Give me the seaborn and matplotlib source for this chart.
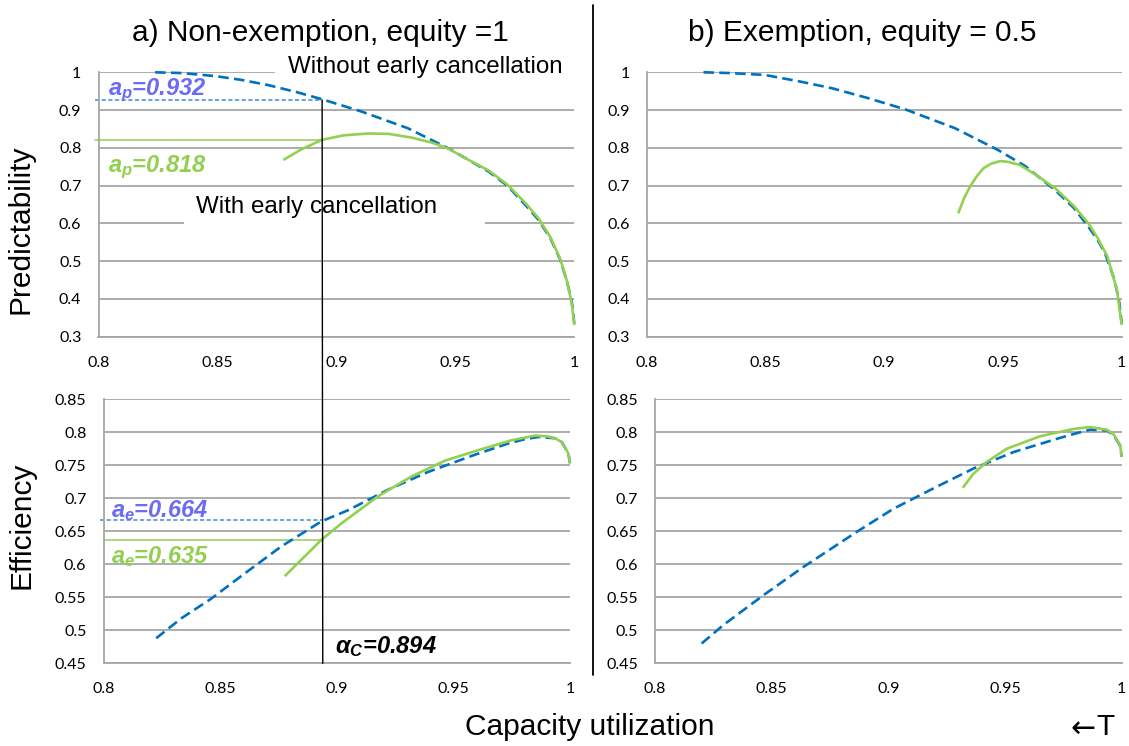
import numpy as np
import pandas as pd
import matplotlib
matplotlib.use("Agg")
import matplotlib.pyplot as plt
import seaborn as sns
from matplotlib.patches import Rectangle, ConnectionPatch
from matplotlib.lines import Line2D

# ---------------- data ----------------
x_ticks = [0.8, 0.85, 0.9, 0.95, 1.0]
x_tick_labels = ["0.8", "0.85", "0.9", "0.95", "1"]
pred_ticks = [0.3, 0.4, 0.5, 0.6, 0.7, 0.8, 0.9, 1.0]
pred_tick_labels = ["0.3", "0.4", "0.5", "0.6", "0.7", "0.8", "0.9", "1"]
eff_ticks = [0.45, 0.5, 0.55, 0.6, 0.65, 0.7, 0.75, 0.8, 0.85]
eff_tick_labels = ["0.45", "0.5", "0.55", "0.6", "0.65", "0.7", "0.75", "0.8", "0.85"]

# a) predictability
a_pred_no_x = [0.8238, 0.835, 0.849, 0.860, 0.8714, 0.883, 0.8938, 0.9106, 0.930, 0.947,
               0.964, 0.972, 0.980, 0.985, 0.990, 0.994, 0.997, 0.999, 1.000]
a_pred_no_y = [1.000, 0.998, 0.990, 0.980, 0.966, 0.948, 0.929, 0.896, 0.852, 0.799,
               0.737, 0.699, 0.645, 0.609, 0.560, 0.505, 0.445, 0.390, 0.335]
a_pred_ec_x = [0.8777, 0.885, 0.8938, 0.903, 0.9134, 0.922, 0.9317, 0.940, 0.947, 0.955,
               0.964, 0.972, 0.980, 0.985, 0.990, 0.994, 0.997, 0.999, 1.000]
a_pred_ec_y = [0.768, 0.795, 0.821, 0.833, 0.838, 0.837, 0.827, 0.814, 0.798, 0.770,
               0.740, 0.702, 0.650, 0.613, 0.563, 0.507, 0.446, 0.385, 0.331]
# a) efficiency
a_eff_no_x = [0.8226, 0.8333, 0.8462, 0.8605, 0.8762, 0.8934, 0.9049, 0.922, 0.9392,
              0.9592, 0.9735, 0.980, 0.9864, 0.9936, 0.9965, 0.9993, 1.000]
a_eff_no_y = [0.488, 0.518, 0.548, 0.586, 0.627, 0.665, 0.682, 0.713, 0.740,
              0.766, 0.783, 0.789, 0.793, 0.791, 0.785, 0.768, 0.753]
a_eff_ec_x = [0.8777, 0.8934, 0.902, 0.9177, 0.932, 0.9464, 0.9607, 0.975, 0.985,
              0.990, 0.9936, 0.9965, 0.9993, 1.000]
a_eff_ec_y = [0.582, 0.637, 0.662, 0.703, 0.733, 0.757, 0.773, 0.788, 0.795,
              0.794, 0.791, 0.785, 0.768, 0.753]
# b) predictability
b_pred_no_x = [0.8239, 0.835, 0.8498, 0.865, 0.8779, 0.893, 0.9088, 0.9298, 0.948, 0.9593,
               0.972, 0.980, 0.986, 0.990, 0.993, 0.997, 0.999, 1.000]
b_pred_no_y = [1.000, 0.998, 0.993, 0.975, 0.958, 0.932, 0.902, 0.852, 0.794, 0.752,
               0.688, 0.640, 0.591, 0.555, 0.521, 0.450, 0.390, 0.335]
b_pred_ec_x = [0.9312, 0.9335, 0.9361, 0.939, 0.9418, 0.945, 0.9488, 0.952, 0.957, 0.964,
               0.972, 0.980, 0.986, 0.990, 0.994, 0.998, 1.000]
b_pred_ec_y = [0.627, 0.665, 0.697, 0.725, 0.746, 0.758, 0.765, 0.763, 0.755, 0.728,
               0.693, 0.645, 0.600, 0.560, 0.512, 0.424, 0.331]
# b) efficiency
b_eff_no_x = [0.820, 0.8293, 0.8464, 0.8636, 0.8864, 0.9021, 0.9193, 0.9364, 0.9536,
              0.9721, 0.980, 0.9864, 0.9936, 0.9965, 0.9993, 1.000]
b_eff_no_y = [0.480, 0.508, 0.553, 0.596, 0.649, 0.684, 0.715, 0.745, 0.770,
              0.790, 0.798, 0.804, 0.803, 0.796, 0.780, 0.763]
b_eff_ec_x = [0.9319, 0.9364, 0.9421, 0.9507, 0.965, 0.9793, 0.9864, 0.9936, 0.9965,
              0.9993, 1.000]
b_eff_ec_y = [0.716, 0.737, 0.755, 0.775, 0.794, 0.805, 0.808, 0.804, 0.797,
              0.781, 0.763]

alpha_c = 0.894
ap_no, ap_ec = 0.927, 0.822
ae_no, ae_ec = 0.667, 0.637
ap_no_label, ap_ec_label = "0.932", "0.818"
ae_no_label, ae_ec_label = "0.664", "0.635"

# ---------------- style ----------------
sns.set_style("white")
plt.rcParams['font.family'] = ['Liberation Sans', 'DejaVu Sans']
plt.rcParams['text.color'] = 'black'
plt.rcParams['mathtext.fontset'] = 'custom'
plt.rcParams['mathtext.it'] = 'Liberation Sans:italic:bold'
plt.rcParams['mathtext.rm'] = 'Liberation Sans:italic:bold'
plt.rcParams['mathtext.bf'] = 'Liberation Sans:italic:bold'

W, H = 1129, 746
BLUE = "#0070C0"
LBLUE = "#4F93D8"
GREEN = "#92D050"
PURP = "#6B6BF5"
GRID = "#A6A6A6"

fig = plt.figure(figsize=(W / 100, H / 100), dpi=100)


def fx(px):
    return px / W


def fy(py):
    return 1 - py / H


def make_ax(l, r, t, b):
    return fig.add_axes([fx(l), fy(b), fx(r) - fx(l), fy(t) - fy(b)])


ax_tl = make_ax(98.5, 574.3, 72.3, 336.7)
ax_bl = make_ax(103.5, 570, 399.3, 663.3)
ax_tr = make_ax(646.7, 1121.7, 72.3, 336.7)
ax_br = make_ax(655, 1121.7, 399.3, 663.3)

tick_font = dict(family=['Lato', 'DejaVu Sans'], size=11.5, color='black')


def style_ax(ax, yticks, ylabels, ylim):
    ax.set_xlim(0.8, 1.0)
    ax.set_ylim(*ylim)
    ax.set_xticks(x_ticks)
    ax.set_xticklabels(x_tick_labels, **tick_font)
    ax.set_yticks(yticks)
    ax.set_yticklabels(ylabels, **tick_font)
    ax.yaxis.grid(True, color=GRID, lw=1.3)
    ax.xaxis.grid(False)
    ax.set_axisbelow(True)
    for s in ['top', 'right']:
        ax.spines[s].set_visible(False)
    for s in ['left', 'bottom']:
        ax.spines[s].set_color(GRID)
        ax.spines[s].set_linewidth(1.3)
    ax.tick_params(axis='both', direction='out', length=3.8, width=1.3, color=GRID,
                   labelcolor='black')
    ax.tick_params(axis='x', pad=10)
    ax.tick_params(axis='y', pad=8.5)
    ax.patch.set_alpha(0)


def draw(ax, xs, ys, color, dashed):
    df = pd.DataFrame({"x": xs, "y": ys})
    sns.lineplot(data=df, x="x", y="y", ax=ax, color=color, lw=1.9,
                 estimator=None, sort=False, zorder=3)
    ln = ax.lines[-1]
    ln.set_clip_on(False)
    ln.set_solid_capstyle('butt')
    ln.set_solid_joinstyle('round')
    if dashed:
        ln.set_dashes((4, 2))
    ax.set_xlabel("")
    ax.set_ylabel("")


style_ax(ax_tl, pred_ticks, pred_tick_labels, (0.3, 1.0))
style_ax(ax_tr, pred_ticks, pred_tick_labels, (0.3, 1.0))
style_ax(ax_bl, eff_ticks, eff_tick_labels, (0.45, 0.85))
style_ax(ax_br, eff_ticks, eff_tick_labels, (0.45, 0.85))

draw(ax_tl, a_pred_no_x, a_pred_no_y, BLUE, True)
draw(ax_tl, a_pred_ec_x, a_pred_ec_y, GREEN, False)
draw(ax_bl, a_eff_no_x, a_eff_no_y, BLUE, True)
draw(ax_bl, a_eff_ec_x, a_eff_ec_y, GREEN, False)
draw(ax_tr, b_pred_no_x, b_pred_no_y, BLUE, True)
draw(ax_tr, b_pred_ec_x, b_pred_ec_y, GREEN, False)
draw(ax_br, b_eff_no_x, b_eff_no_y, BLUE, True)
draw(ax_br, b_eff_ec_x, b_eff_ec_y, GREEN, False)

# reference horizontal lines
ax_tl.plot([0.7985, alpha_c], [ap_no, ap_no], color=LBLUE, lw=1.2, ls=(0, (2.5, 1.5)),
           clip_on=False, zorder=2.5)
ax_tl.plot([0.7985, alpha_c], [ap_ec, ap_ec], color=GREEN, lw=1.1, clip_on=False, zorder=2.5)
ax_bl.plot([0.7985, alpha_c], [ae_no, ae_no], color=LBLUE, lw=1.2, ls=(0, (2.5, 1.5)),
           clip_on=False, zorder=2.5)
ax_bl.plot([0.8, alpha_c], [ae_ec, ae_ec], color=GREEN, lw=1.1, clip_on=False, zorder=2.5)

# white boxes behind the text labels (cover gridlines)
for (l, r, t, b) in [(275, 578, 47, 83), (184, 485, 191, 230)]:
    ax_tl.add_patch(Rectangle((fx(l), fy(b)), fx(r) - fx(l), fy(t) - fy(b),
                              transform=fig.transFigure, facecolor='white',
                              edgecolor='none', zorder=1.5, clip_on=False))

lab_kw = dict(fontsize=17.4, ha='center', va='center', color='black', zorder=4, clip_on=False)
ax_tl.text(0.9375, 1.014, "Without early cancellation", **lab_kw)
ax_tl.text(0.8915, 0.644, "With early cancellation", **lab_kw)

ann_kw = dict(fontsize=17, ha='left', va='center', fontweight='bold', fontstyle='italic',
              zorder=4, clip_on=False)
ax_tl.text(0.8041, 0.953, r"$a_p$=" + ap_no_label, color=PURP, **ann_kw)
ax_tl.text(0.8041, 0.749, r"$a_p$=" + ap_ec_label, color=GREEN, **ann_kw)
ax_bl.text(0.8034, 0.681, r"$a_e$=" + ae_no_label, color=PURP, **ann_kw)
ax_bl.text(0.8034, 0.6115, r"$a_e$=" + ae_ec_label, color=GREEN, **ann_kw)
ax_bl.text(0.8994, 0.475, r"$\alpha_C$=" + f"{alpha_c:.3f}", color='black', **ann_kw)

# vertical alpha_C line spanning both panels
con = ConnectionPatch(xyA=(alpha_c, ap_no), coordsA='data', axesA=ax_tl,
                      xyB=(alpha_c, 0.45), coordsB='data', axesB=ax_bl,
                      color='black', lw=1.0, zorder=5)
fig.add_artist(con)

# divider between columns
fig.add_artist(Line2D([fx(593), fx(593)], [fy(5), fy(675)], color='black', lw=1.3))

# titles and axis labels
big = 21.5
fig.text(fx(320), fy(33), "a) Non-exemption, equity =1", fontsize=big, ha='center', va='center')
fig.text(fx(862), fy(33), "b) Exemption, equity = 0.5", fontsize=big, ha='center', va='center')
fig.text(fx(21), fy(229), "Predictability", fontsize=big, rotation=90, ha='center', va='center')
fig.text(fx(21), fy(525), "Efficiency", fontsize=big, rotation=90, ha='center', va='center')
fig.text(fx(590), fy(727), "Capacity utilization", fontsize=big, ha='center', va='center')
fig.text(fx(1096), fy(727), "T", fontsize=big, ha='left', va='center')
fig.text(fx(1096), fy(728), "←", fontsize=big, ha='right', va='center',
         family=['DejaVu Sans'])

fig.savefig("out.png", dpi=100, facecolor='white')
